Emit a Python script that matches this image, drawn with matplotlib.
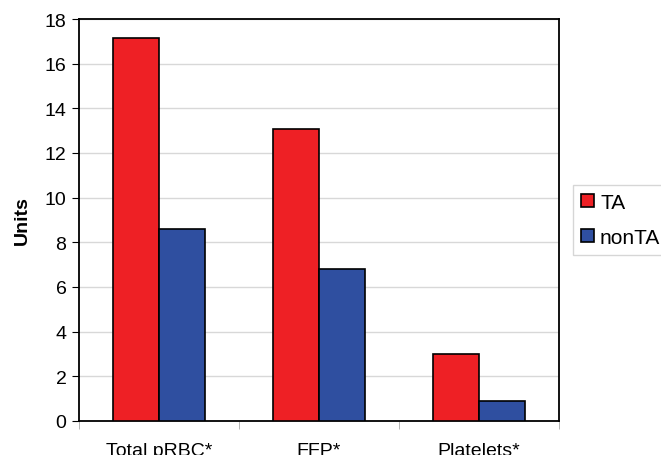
import numpy as np
import matplotlib.pyplot as plt

plt.rcParams['font.family'] = ['Liberation Sans', 'DejaVu Sans']

categories = ['Total pRBC*', 'FFP*', 'Platelets*']
ta = [17.15, 13.07, 3.0]
nonta = [8.58, 6.8, 0.9]

fig = plt.figure(figsize=(6.61, 4.56), dpi=100)
ax = fig.add_axes([79 / 661, 34 / 456, 480 / 661, 402 / 456])

x = np.arange(len(categories))
w = 0.29
ax.bar(x - w / 2, ta, w, color='#ee2025', edgecolor='black', linewidth=1.2, label='TA', zorder=3)
ax.bar(x + w / 2, nonta, w, color='#2f4fa0', edgecolor='black', linewidth=1.2, label='nonTA', zorder=3)

ax.set_xlim(-0.5, 2.5)
ax.set_ylim(0, 18)
ax.set_yticks(range(0, 19, 2))
ax.yaxis.grid(True, color='#d8d8d8', linewidth=1)
ax.set_axisbelow(True)

ax.set_xticks(x)
ax.set_xticklabels(categories, fontsize=14)
ax.set_xticks([-0.5, 0.5, 1.5, 2.5], minor=True)
ax.tick_params(axis='x', which='major', length=0, pad=15)
ax.tick_params(axis='x', which='minor', length=6, color='#aaaaaa')
ax.tick_params(axis='y', labelsize=14, length=5, pad=4)

for s in ax.spines.values():
    s.set_linewidth(1.3)
    s.set_color('black')

ax.set_ylabel('Units', fontsize=14, fontweight='bold', labelpad=10)

ax.legend(loc='center left', bbox_to_anchor=(1.029, 0.5), fontsize=15, frameon=True,
          fancybox=False, edgecolor='#cccccc', handlelength=0.6, handleheight=0.6,
          handletextpad=0.3, borderpad=0.4, labelspacing=0.75, borderaxespad=0)

fig.savefig('out.png', dpi=100)
